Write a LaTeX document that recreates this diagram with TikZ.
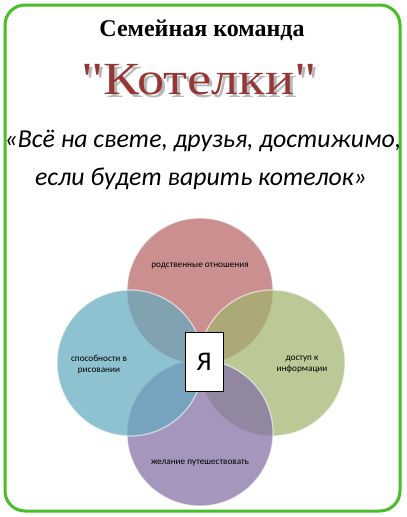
\documentclass[tikz,border=0pt]{standalone}
\usepackage{fontspec}
\setmainfont{Liberation Serif}
\newfontfamily\calfont{Carlito}
\newfontfamily\namefont{Liberation Serif}[Ligatures=TeXOff]
\usetikzlibrary{positioning}
\definecolor{framegreen}{RGB}{70,190,40}
\definecolor{kotred}{RGB}{150,55,53}
\definecolor{cred}{RGB}{185,100,100}
\definecolor{cblue}{RGB}{100,170,190}
\definecolor{cgreen}{RGB}{160,180,110}
\definecolor{cpurple}{RGB}{130,110,165}
\newcommand{\teamname}{\scalebox{1.18}[1]{\namefont\fontsize{46}{48}\selectfont"Котелки"}}

\begin{document}
\begin{tikzpicture}[x=1pt,y=-1pt,
    ring/.style={circle, minimum size=146pt, inner sep=0pt, fill opacity=0.72,
      draw=white, draw opacity=0.6, line width=1.2pt},
    ringtext/.style={font=\calfont\fontsize{9.2}{11}\selectfont, align=center, text=black},
    motto/.style={anchor=base, font=\calfont\itshape\fontsize{25.8}{28}\selectfont}]
  \useasboundingbox (0,0) rectangle (407,517);
  \draw[framegreen, line width=3pt, rounded corners=20pt] (5,5) rectangle (400,511);

  \node (title) at (202,30) {\fontsize{24}{26}\selectfont\bfseries Семейная команда};
  \node[text=black!28] (shadow) at (202,83) {\teamname};
  \node[text=kotred] (name) at (199,80) {\teamname};
  \node[motto] (motto1) at (203,147) {«Всё на свете, друзья, достижимо,};
  \node[motto] (motto2) at (201,185) {если будет варить котелок»};

  % circles
  \node[ring, fill=cred] (kin) at (200,291) {};
  \node[ring, fill=cgreen] (info) at (272,363) {};
  \node[ring, fill=cpurple] (travel) at (200,433) {};
  \node[ring, fill=cblue] (draw) at (130,363) {};

  \node[ringtext] (kintext) at (200,266) {родственные отношения};
  \node[ringtext] (infotext) at (302,365) {доступ к\\информации};
  \node[ringtext] (traveltext) at (200,463) {желание путешествовать};
  \node[ringtext] (drawtext) at (99,365) {способности в\\рисовании};

  \node[draw, fill=white, line width=0.8pt, minimum width=38pt, minimum height=59pt,
    inner sep=0pt, font=\calfont\fontsize{27}{29}\selectfont] (me) at (204,362) {Я};
\end{tikzpicture}
\end{document}
